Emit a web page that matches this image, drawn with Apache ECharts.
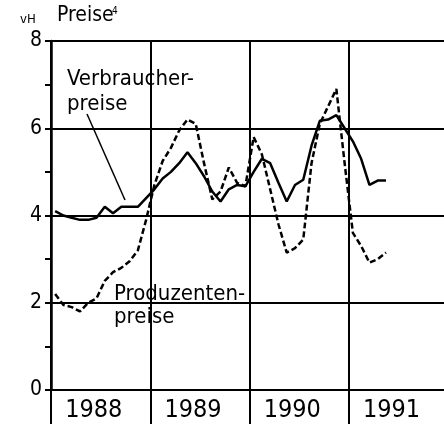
<!DOCTYPE html>
<html>
<head>
<meta charset="utf-8">
<style>
  html, body { margin: 0; padding: 0; background: #fff; overflow: hidden; }
  #chart { width: 452px; height: 424px; }
</style>
<script src="https://cdn.jsdelivr.net/npm/echarts@6/dist/echarts.min.js"></script>
</head>
<body>
<div id="chart"></div>
<script>
  // Monate Jan 1988 .. Dez 1991
  var years = ['1988', '1989', '1990', '1991'];
  var months = [];
  years.forEach(function (y) {
    for (var m = 1; m <= 12; m++) months.push(y + '-' + m);
  });

  // Veraenderung gegenueber Vorjahr in vH, Jan 1988 .. Mai 1991
  var verbraucherpreise = [
    4.1, 4.0, 3.95, 3.9, 3.9, 3.95, 4.2, 4.05, 4.2, 4.2, 4.2, 4.4,
    4.6, 4.85, 5.0, 5.2, 5.45, 5.2, 4.9, 4.55, 4.32, 4.6, 4.7, 4.67,
    5.0, 5.3, 5.2, 4.75, 4.32, 4.7, 4.82, 5.6, 6.17, 6.2, 6.3, 6.0,
    5.7, 5.3, 4.7, 4.8, 4.8
  ];
  var produzentenpreise = [
    2.2, 1.95, 1.9, 1.8, 2.0, 2.1, 2.5, 2.7, 2.8, 2.95, 3.2, 3.9,
    4.7, 5.25, 5.55, 5.95, 6.2, 6.1, 5.2, 4.37, 4.55, 5.1, 4.75, 4.67,
    5.8, 5.4, 4.6, 3.8, 3.15, 3.25, 3.45, 5.2, 6.1, 6.5, 6.9, 5.2,
    3.6, 3.3, 2.92, 3.0, 3.15
  ];
  var yTicks = [0, 2, 4, 6, 8];

  var font = "'Liberation Sans Narrow', 'DejaVu Sans Condensed', sans-serif";
  var ink = '#000';
  var yearStart = function (i) { return i % 12 === 0; };

  // div is a little wider than the window so the 1991 band runs off the right edge
  var chart = echarts.init(document.getElementById('chart'), null, { renderer: 'canvas' });
  chart.setOption({
    backgroundColor: '#fff',
    animation: false,
    grid: { left: 51, top: 41, width: 397, height: 349, containLabel: false },
    xAxis: {
      type: 'category',
      data: months,
      boundaryGap: true,
      axisLine: { show: true, lineStyle: { color: ink, width: 2 } },
      axisTick: { show: true, interval: yearStart, length: 34, lineStyle: { color: ink, width: 2 } },
      axisLabel: {
        interval: yearStart,
        formatter: function (v) { return v.split('-')[0]; },
        align: 'left',
        margin: 8,
        padding: [0, 0, 0, 10],
        color: ink,
        fontFamily: font,
        fontSize: 25
      },
      splitLine: { show: true, interval: yearStart, lineStyle: { color: ink, width: 2 } }
    },
    yAxis: {
      type: 'value',
      min: 0,
      max: 8,
      interval: 2,
      axisLine: { show: true, lineStyle: { color: ink, width: 2.5 } },
      axisTick: { show: true, length: 6, lineStyle: { color: ink, width: 2 } },
      minorTick: { show: true, splitNumber: 2, length: 6, lineStyle: { color: ink, width: 2 } },
      axisLabel: {
        margin: 9,
        color: ink,
        fontFamily: font,
        fontSize: 21,
        formatter: function (v) { return yTicks.indexOf(v) >= 0 ? String(v) : ''; }
      },
      splitLine: { show: true, lineStyle: { color: ink, width: 2 } }
    },
    series: [
      {
        name: 'Verbraucherpreise',
        type: 'line',
        data: verbraucherpreise,
        symbol: 'none',
        z: 3,
        lineStyle: { color: ink, width: 2.5 }
      },
      {
        name: 'Produzentenpreise',
        type: 'line',
        data: produzentenpreise,
        symbol: 'none',
        z: 4,
        lineStyle: { color: ink, width: 2.5, type: [6, 3] }
      }
    ],
    graphic: [
      { type: 'text', left: 20, top: 13, style: { text: 'vH', font: '13px ' + font, fill: ink } },
      { type: 'text', left: 57, top: 5, style: { text: 'Preise', font: '21px ' + font, fill: ink } },
      { type: 'text', left: 112, top: 6, style: { text: '4', font: '10px ' + font, fill: ink } },
      { type: 'text', left: 67, top: 68, style: { text: 'Verbraucher-', font: '22px ' + font, fill: ink } },
      { type: 'text', left: 67, top: 93, style: { text: 'preise', font: '22px ' + font, fill: ink } },
      { type: 'line', shape: { x1: 87, y1: 114, x2: 125, y2: 200 }, style: { stroke: ink, lineWidth: 1.5 } },
      { type: 'text', left: 114, top: 283, style: { text: 'Produzenten-', font: '22px ' + font, fill: ink } },
      { type: 'text', left: 114, top: 306, style: { text: 'preise', font: '22px ' + font, fill: ink } }
    ]
  });
</script>
</body>
</html>
